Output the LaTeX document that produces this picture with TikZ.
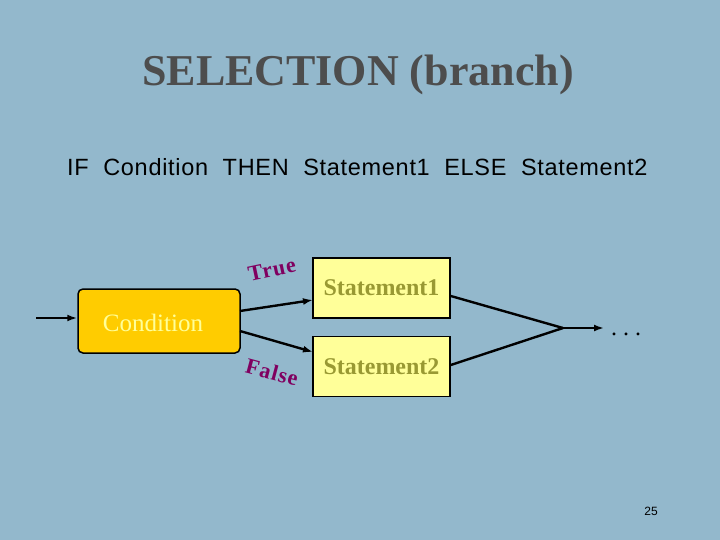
\documentclass[tikz,border=0pt]{standalone}
\usepackage{fontspec}
\setmainfont{Liberation Serif}
\setsansfont{Liberation Sans}
\usetikzlibrary{arrows.meta}
\definecolor{bg}{HTML}{93B8CC}
\definecolor{condfill}{HTML}{FFCC00}
\definecolor{stfill}{HTML}{FFFF99}
\definecolor{sttext}{HTML}{999933}
\definecolor{tf}{HTML}{800060}
\definecolor{titlec}{HTML}{4D4D4D}
\newcommand{\wgap}{\hspace{14.5pt}}
\begin{document}
\begin{tikzpicture}[x=1pt,y=-1pt,
  flow/.style={line width=2.4pt,-{Latex[length=10pt,width=7pt]}},
  mergeline/.style={line width=2.4pt},
  stbox/.style={draw=black,line width=1.5pt,fill=stfill,minimum width=137pt,minimum height=60pt,inner sep=0pt,
    font=\fontsize{24}{28}\selectfont\bfseries,text=sttext},
  tflab/.style={font=\fontsize{22}{26}\selectfont\bfseries\addfontfeatures{LetterSpace=5},text=tf}]
\fill[bg] (0,0) rectangle (720,540);
\useasboundingbox (0,0) rectangle (720,540);
\node[font=\fontsize{44}{50}\selectfont\bfseries,text=titlec] (title) at (358,75) {SELECTION (branch)};
\node[anchor=base west,inner sep=0pt,font=\sffamily\fontsize{23.5}{27}\selectfont\addfontfeatures{LetterSpace=3}] (sub) at (67,176) {IF\wgap Condition\wgap THEN\wgap Statement1\wgap ELSE\wgap Statement2};
\node[draw=black,line width=1.5pt,fill=condfill,rounded corners=5pt,minimum width=162pt,minimum height=64pt,inner sep=0pt] (cond) at (159,321) {};
\node[font=\fontsize{25}{29}\selectfont,text=stfill] (condtxt) at (153,323) {Condition};
\node[stbox] (s1) at (381.5,288) {Statement1};
\node[stbox] (s2) at (381.5,366.5) {Statement2};
\coordinate (in) at (36,318);
\coordinate (m) at (563,328);
\coordinate (out) at (604,328);
\node[anchor=base west,inner sep=0pt,font=\fontsize{24}{28}\selectfont] (dots) at (611,335) {.\ .\ .};
\draw[flow] (in) -- (in -| cond.west);
\draw[flow] (240,311) -- (313,300);
\draw[flow] (240,331) -- (313,352);
\draw[mergeline] (s1.east |- 0,296) -- (m);
\draw[mergeline] (s2.east |- 0,365) -- (m);
\draw[flow] (m) -- (out);
\node[tflab,rotate=12] (t) at (272,270) {True};
\node[tflab,rotate=-15] (f) at (272,372) {False};
\node[font=\sffamily\fontsize{12}{14}\selectfont] (pg) at (651,511) {25};
\end{tikzpicture}
\end{document}
